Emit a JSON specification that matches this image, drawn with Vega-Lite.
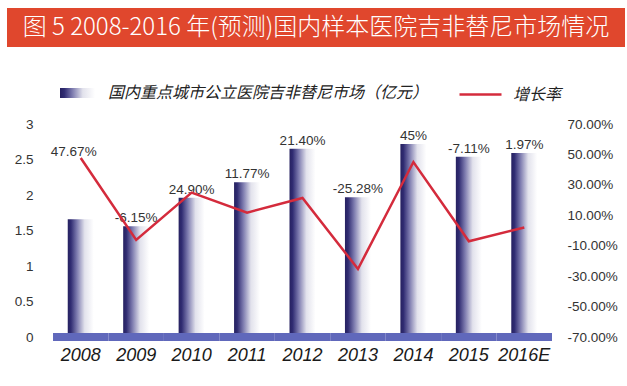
{
  "$schema": "https://vega.github.io/schema/vega-lite/v6.json",
  "background": "white",
  "padding": {"left": 7, "top": 8, "right": 0, "bottom": 0},
  "config": {"view": {"stroke": null}, "font": "Liberation Sans"},
  "spacing": 70,
  "datasets": {
    "main": [
      {"year": "2008", "sales": 1.66, "growth": 0.4767, "label": "47.67%"},
      {"year": "2009", "sales": 1.56, "growth": -0.0615, "label": "-6.15%"},
      {"year": "2010", "sales": 1.96, "growth": 0.249, "label": "24.90%"},
      {"year": "2011", "sales": 2.18, "growth": 0.1177, "label": "11.77%"},
      {"year": "2012", "sales": 2.65, "growth": 0.214, "label": "21.40%"},
      {"year": "2013", "sales": 1.97, "growth": -0.2528, "label": "-25.28%"},
      {"year": "2014", "sales": 2.72, "growth": 0.45, "label": "45%"},
      {"year": "2015", "sales": 2.54, "growth": -0.0711, "label": "-7.11%"},
      {"year": "2016E", "sales": 2.59, "growth": 0.0197, "label": "1.97%"}
    ]
  },
  "vconcat": [
    {
      "width": 618,
      "height": 39,
      "view": {"fill": "#e0472d", "stroke": null},
      "data": {"values": [{"t": "图 5 2008-2016 年(预测)国内样本医院吉非替尼市场情况"}]},
      "mark": {"type": "text", "font": "Noto Sans CJK SC", "fontSize": 24, "fontWeight": 300, "color": "#ffffff"},
      "encoding": {"text": {"field": "t", "type": "nominal"}}
    },
    {
      "width": 545,
      "height": 213,
      "data": {"name": "main"},
      "encoding": {
        "x": {
          "field": "year",
          "type": "nominal",
          "sort": null,
          "scale": {"type": "band", "paddingInner": 0, "paddingOuter": 0.415, "align": 1},
          "axis": {
            "title": null,
            "domain": false,
            "ticks": false,
            "labelAngle": 0,
            "labelFont": "Liberation Sans",
            "labelFontSize": 18,
            "labelFontStyle": "italic",
            "labelColor": "#1a1a1a",
            "labelPadding": 9,
            "zindex": 1
          }
        }
      },
      "layer": [
        {
          "layer": [
            {
              "mark": {
                "type": "bar",
                "width": 26,
                "fill": {
                  "gradient": "linear",
                  "x1": 0, "y1": 0, "x2": 1, "y2": 0,
                  "stops": [
                    {"offset": 0, "color": "#262160"},
                    {"offset": 0.12, "color": "#302c72"},
                    {"offset": 0.35, "color": "#7c7aae"},
                    {"offset": 0.65, "color": "#e2e2ec"},
                    {"offset": 1, "color": "#ffffff"}
                  ]
                }
              },
              "encoding": {
                "y": {
                  "field": "sales",
                  "type": "quantitative",
                  "scale": {"domain": [0, 3], "nice": false, "zero": true},
                  "axis": {
                    "values": [0, 0.5, 1, 1.5, 2, 2.5, 3],
                    "tickCount": 20,
                    "labelExpr": "toString(datum.value)",
                    "labelOverlap": false,
                    "title": null,
                    "domain": false,
                    "ticks": false,
                    "grid": false,
                    "labelPadding": -26,
                    "labelAlign": "right",
                    "labelFont": "Liberation Sans",
                    "labelFontSize": 13.5,
                    "labelColor": "#333333"
                  }
                },
                "opacity": {
                  "datum": "国内重点城市公立医院吉非替尼市场（亿元）",
                  "type": "nominal",
                  "scale": {"range": [1]},
                  "legend": {
                    "title": null,
                    "orient": "none",
                    "legendX": 60.5,
                    "legendY": 75,
                    "padding": 0,
                    "symbolType": "M-1.75,-0.5H1.75V0.5H-1.75Z",
                    "symbolSize": 400,
                    "symbolStrokeWidth": 0,
                    "labelFont": "Noto Sans CJK SC",
                    "labelFontSize": 16,
                    "labelFontStyle": "italic",
                    "labelColor": "#222222",
                    "labelOffset": 20.5,
                    "labelLimit": 600
                  }
                }
              }
            },
            {
              "mark": {"type": "bar", "width": {"band": 1}, "color": "#6068bb"},
              "encoding": {
                "y": {"datum": -0.055, "type": "quantitative"},
                "y2": {"datum": 0.055}
              }
            },
            {
              "transform": [{"filter": "datum.year !== '2008'"}],
              "mark": {"type": "text", "baseline": "alphabetic", "dy": -4, "font": "Liberation Sans", "fontSize": 13.5, "color": "#333333"},
              "encoding": {
                "y": {"field": "sales", "type": "quantitative"},
                "text": {"field": "label", "type": "nominal"}
              }
            }
          ]
        },
        {
          "layer": [
            {
              "mark": {"type": "line", "strokeWidth": 2.5},
              "encoding": {
                "y": {
                  "field": "growth",
                  "type": "quantitative",
                  "scale": {"domain": [-0.7, 0.7], "nice": false, "zero": false},
                  "axis": {
                    "orient": "right",
                    "values": [-0.7, -0.5, -0.3, -0.1, 0.1, 0.3, 0.5, 0.7],
                    "tickCount": 20,
                    "labelExpr": "(datum.value < 0 ? '-' : '') + format(abs(datum.value), '.2%')",
                    "labelOverlap": false,
                    "title": null,
                    "domain": false,
                    "ticks": false,
                    "grid": false,
                    "labelPadding": 15,
                    "labelFont": "Liberation Sans",
                    "labelFontSize": 13.5,
                    "labelColor": "#333333"
                  }
                },
                "stroke": {
                  "datum": "增长率",
                  "type": "nominal",
                  "scale": {"range": ["#d42b3c"]},
                  "legend": {
                    "title": null,
                    "orient": "none",
                    "legendX": 451,
                    "legendY": 64,
                    "padding": 0,
                    "symbolType": "stroke",
                    "symbolSize": 1764,
                    "symbolStrokeWidth": 2.5,
                    "labelFont": "Noto Sans CJK SC",
                    "labelFontSize": 16,
                    "labelFontStyle": "italic",
                    "labelColor": "#222222",
                    "labelOffset": 10
                  }
                }
              }
            },
            {
              "transform": [{"filter": "datum.year === '2008'"}],
              "mark": {"type": "text", "baseline": "alphabetic", "dy": -2, "dx": -7, "font": "Liberation Sans", "fontSize": 13.5, "color": "#333333"},
              "encoding": {
                "y": {"field": "growth", "type": "quantitative"},
                "text": {"field": "label", "type": "nominal"}
              }
            }
          ]
        }
      ],
      "resolve": {"scale": {"y": "independent"}}
    }
  ]
}
